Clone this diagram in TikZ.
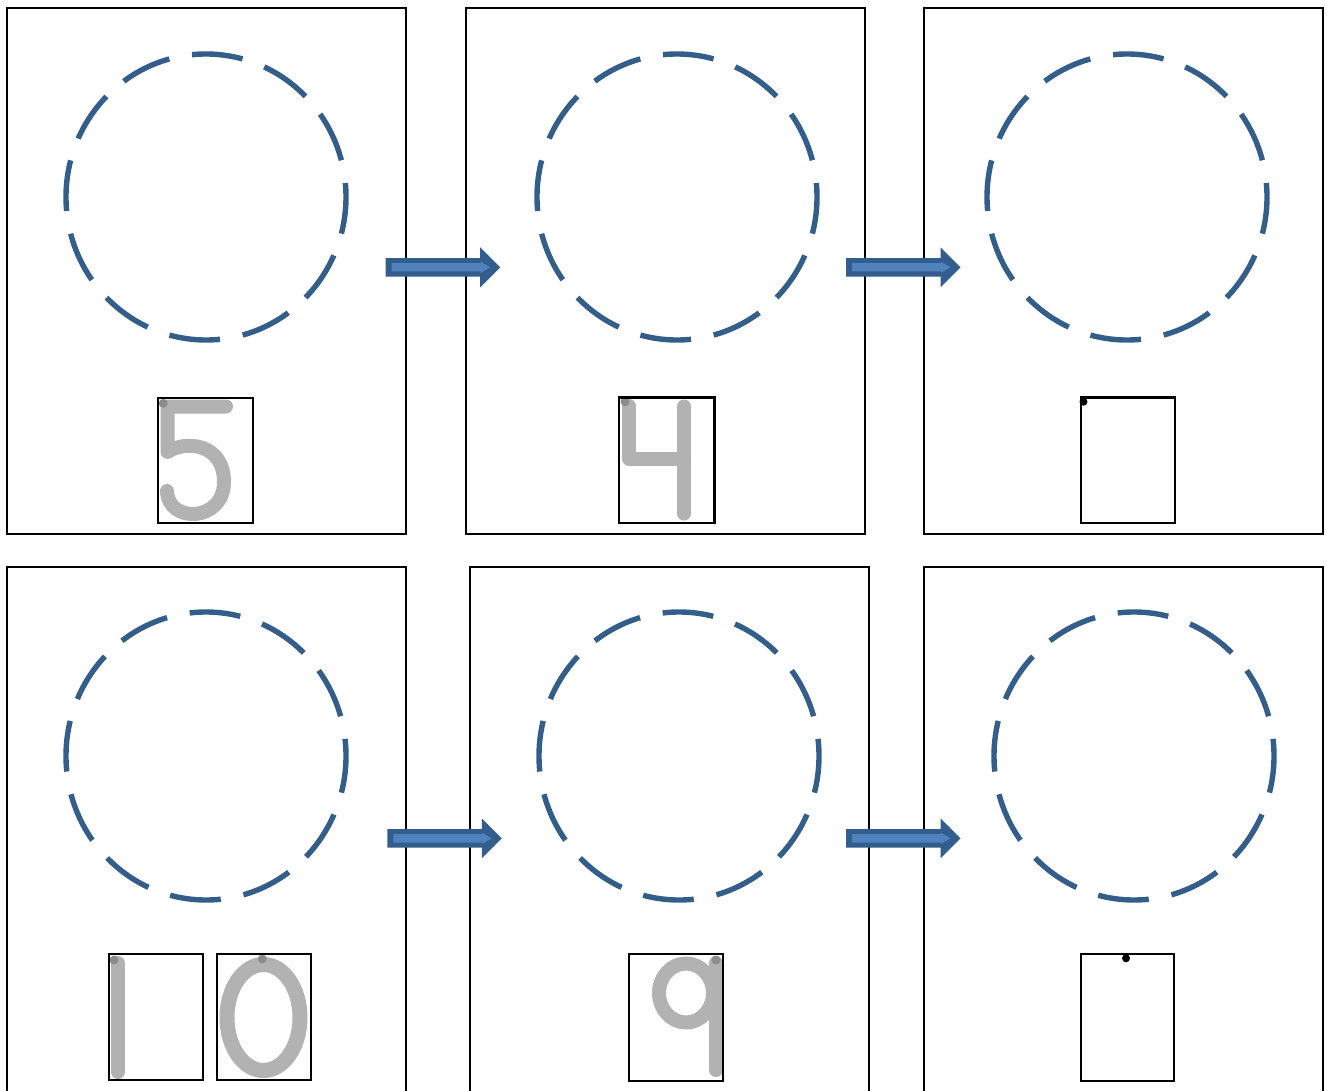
\documentclass[tikz,border=0pt]{standalone}
\usetikzlibrary{calc}
\definecolor{circblue}{RGB}{52,94,138}
\definecolor{arrdark}{RGB}{50,93,140}
\definecolor{arrlight}{RGB}{79,129,189}
\definecolor{digitgray}{RGB}{178,178,178}
\definecolor{dotgray}{RGB}{140,140,140}
\tikzset{
  panel/.style={draw=black, line width=1.6pt},
  numbox/.style={draw=black, line width=2.2pt},
  dashcirc/.style={draw=circblue, line width=5.4pt, dash pattern=on 51pt off 23.1pt, dash phase=14pt},
  digit/.style={draw=digitgray, line width=14pt, line cap=round, line join=round},
  startdot/.style={fill=dotgray},
  blackdot/.style={fill=black},
}
\newcommand{\blockarr}[2]{%
  \begin{scope}[shift={(#1,#2)}]
    \fill[arrdark] (0,-9.2) -- (94.5,-9.2) -- (94.5,-20) -- (114.5,0) -- (94.5,20) -- (94.5,9.2) -- (0,9.2) -- cycle;
    \fill[arrlight] (6,-4.2) -- (95,-4.2) -- (95,-5.6) -- (104.5,0) -- (95,5.6) -- (95,4.2) -- (6,4.2) -- cycle;
  \end{scope}}
\begin{document}
\begin{tikzpicture}[x=1pt,y=-1pt]
\path[use as bounding box] (0,0) rectangle (1327,1091);
\clip (0,0) rectangle (1327,1091);
\fill[white] (0,0) rectangle (1327,1091);
% panels
\draw[panel] (7,8) rectangle (406,534);
\draw[panel] (466,8) rectangle (865,534);
\draw[panel] (924,8) rectangle (1323,534);
\draw[panel] (7,567) rectangle (406,1110);
\draw[panel] (470,567) rectangle (869,1110);
\draw[panel] (924,567) rectangle (1323,1110);
% dashed circles
\draw[dashcirc] (206,197) ellipse [x radius=140, y radius=143];
\draw[dashcirc] (677,197) ellipse [x radius=140, y radius=143];
\draw[dashcirc] (1127,197) ellipse [x radius=140, y radius=143];
\draw[dashcirc] (206,756) ellipse [x radius=140, y radius=144];
\draw[dashcirc] (679,756) ellipse [x radius=140, y radius=144];
\draw[dashcirc] (1134,756) ellipse [x radius=140, y radius=144];
% arrows
\blockarr{385.7}{267.3}
\blockarr{846}{267.3}
\blockarr{387.3}{838.3}
\blockarr{846}{838.3}
% digit 5
\draw[digit] (226,406.5) -- (167.5,406.5) -- (167.5,452)
  .. controls (185,440) and (224,443) .. (224,482)
  .. controls (224,522) and (168,524) .. (167,491);
\fill[startdot] (163.3,403.3) circle (4.5);
\draw[numbox] (158.3,398.3) rectangle (252.7,523.3);
% digit 4
\draw[digit] (629,406) -- (629,459) -- (684,459);
\draw[digit] (684,406.5) -- (684,513.5);
\fill[startdot] (625,401.7) circle (4.5);
\draw[numbox] (619,397.5) rectangle (714.5,523.3);
% empty box 3
\draw[numbox] (1080.7,397.5) rectangle (1175,522.7);
\fill[blackdot] (1083.5,401.7) circle (4);
% digits 1 0
\draw[digit] (118,963) -- (118,1072);
\fill[startdot] (114,960) circle (4.5);
\draw[numbox] (109.3,954.3) rectangle (203.3,1080);
\draw[digit, line width=15pt] (263.5,1017.5) ellipse [x radius=36.5, y radius=53];
\fill[startdot] (262.3,959) circle (4.5);
\draw[numbox] (216.7,954.3) rectangle (310.7,1080);
% digit 9
\draw[digit] (686,993) ellipse [x radius=27, y radius=29.5];
\draw[digit] (716,963) -- (716,1070);
\fill[startdot] (716,960) circle (4.5);
\draw[numbox] (629.3,954.3) rectangle (723.3,1081);
% empty box 6
\draw[numbox] (1080.7,954.3) rectangle (1174,1081);
\fill[blackdot] (1126,958.3) circle (4);
\end{tikzpicture}
\end{document}
